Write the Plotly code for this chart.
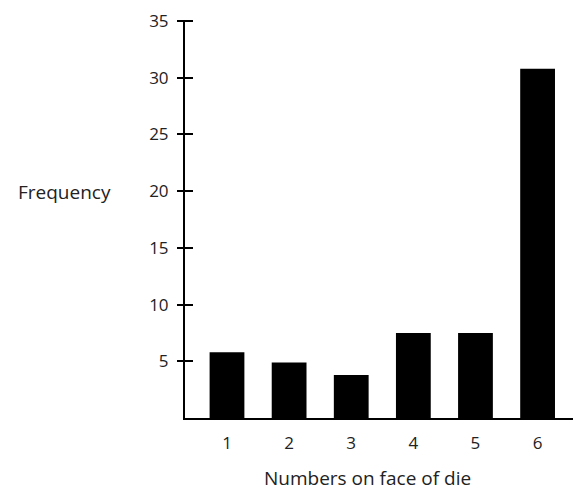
import plotly.graph_objects as go

faces = [1, 2, 3, 4, 5, 6]
frequency = [5.8, 4.9, 3.8, 7.5, 7.5, 30.8]
y_ticks = [5, 10, 15, 20, 25, 30, 35]

FONT = "Open Sans"
W, H = 573, 493
L, R, T, B = 185, 0, 21, 75
PW = W - L - R

fig = go.Figure()
fig.add_trace(go.Bar(x=faces, y=frequency, width=0.56,
                     marker=dict(color="black", line=dict(width=0)),
                     showlegend=False, hoverinfo="skip"))
# invisible trace so the overlay axis (crossing tick marks) is drawn
fig.add_trace(go.Scatter(x=[faces[0]], y=[0], yaxis="y2", mode="markers",
                         marker=dict(opacity=0), showlegend=False, hoverinfo="skip"))

fig.update_layout(
    width=W, height=H,
    margin=dict(l=L, r=R, t=T, b=B, pad=0),
    paper_bgcolor="white", plot_bgcolor="white",
    font=dict(family=FONT, size=17, color="#222"),
    xaxis=dict(range=[0.324, 6.57], tickmode="array", tickvals=faces,
               ticktext=[str(f) for f in faces], ticks="", showgrid=False,
               zeroline=False, showline=True, linecolor="black", linewidth=2,
               tickfont=dict(size=17, color="#222"), ticklabelstandoff=9),
    yaxis=dict(range=[0, 35], tickmode="array", tickvals=y_ticks,
               ticks="", showgrid=False, zeroline=False, showline=True,
               linecolor="black", linewidth=2,
               tickfont=dict(size=17, color="#222"), ticklabelstandoff=11),
    yaxis2=dict(range=[0, 35], overlaying="y", side="left", anchor="free",
                position=8 / PW, tickmode="array", tickvals=y_ticks,
                ticks="outside", ticklen=16, tickwidth=2, tickcolor="black",
                showticklabels=False, showgrid=False, zeroline=False,
                showline=False),
    annotations=[
        dict(text="Frequency", xref="paper", yref="paper",
             x=-(L - 64) / PW, y=(H - B - 192) / (H - T - B),
             showarrow=False, xanchor="center", yanchor="middle",
             font=dict(family=FONT, size=19, color="#222")),
        dict(text="Numbers on face of die", xref="paper", yref="paper",
             x=(367 - L) / PW, y=-(478 - (H - B)) / (H - T - B),
             showarrow=False, xanchor="center", yanchor="middle",
             font=dict(family=FONT, size=19, color="#222")),
    ],
)

fig.write_html("out.html", config={"displayModeBar": False},
               post_script="document.body.style.margin='0';")
